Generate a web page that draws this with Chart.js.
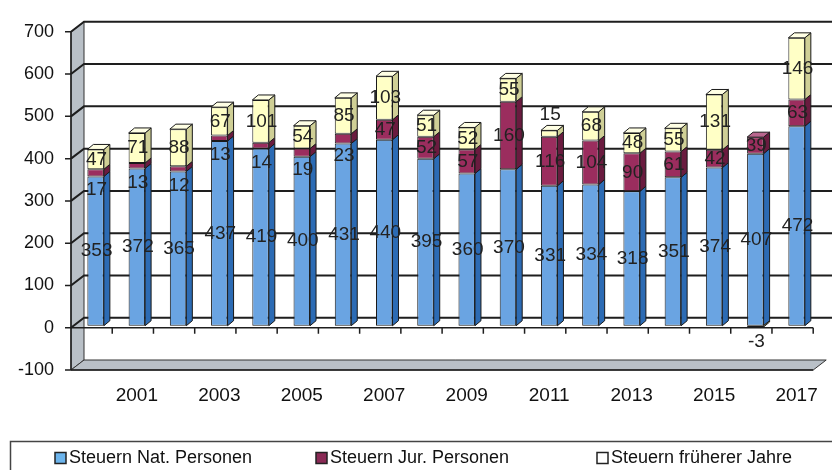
<!DOCTYPE html>
<html>
<head>
<meta charset="utf-8">
<script src="https://cdn.jsdelivr.net/npm/chart.js@4.4.0/dist/chart.umd.min.js"></script>
<style>
  html, body { margin: 0; padding: 0; background: #fff; overflow: hidden; }
  #wrap { width: 832px; height: 470px; }
</style>
</head>
<body>
<div id="wrap"><canvas id="chart" width="832" height="470"></canvas></div>
<script>
const years = ['2000', '2001', '2002', '2003', '2004', '2005', '2006', '2007', '2008',
  '2009', '2010', '2011', '2012', '2013', '2014', '2015', '2016', '2017']
const natPersonen = [353, 372, 365, 437, 419, 400, 431, 440, 395, 360, 370, 331, 334, 318, 351, 374, 407, 472]
const jurPersonen = [17, 13, 12, 13, 14, 19, 23, 47, 52, 57, 160, 116, 104, 90, 61, 42, 39, 63]
const fruehereJahre = [47, 71, 88, 67, 101, 54, 85, 103, 51, 52, 55, 15, 68, 48, 55, 131, -3, 146]
const seriesNames = ['Steuern Nat. Personen', 'Steuern Jur. Personen', 'Steuern früherer Jahre']
const yTickValues = [-100, 0, 100, 200, 300, 400, 500, 600, 700]

const frontColors = ['#6aa4e2', '#9b2d5e', '#ffffc6']
const sideColors = ['#2c6bb4', '#6a1b3f', '#cfcf96']
const topColors = ['#a8cbf1', '#b9668e', '#ffffe4']
const legendColors = ['#6cb4ec', '#8a2a55', '#ffffff']
const FONT = '"Liberation Sans", Arial, sans-serif'

// gray wall, floor, back grid lines and front axis lines
const frame3d = {
  id: 'frame3d',
  beforeDraw(chart) {
    const { ctx, chartArea: a, scales: { x, y } } = chart
    const L = a.left - 4, R = a.right - 4, dx = 13, dy = 10
    const yTop = y.getPixelForValue(y.max), yBot = y.getPixelForValue(y.min)
    const y0 = y.getPixelForValue(0)
    const poly = pts => {
      ctx.beginPath()
      pts.forEach(([px, py], i) => i ? ctx.lineTo(px, py) : ctx.moveTo(px, py))
      ctx.closePath()
    }
    ctx.save()
    ctx.fillStyle = '#b9c0c7'
    ctx.strokeStyle = '#333'
    ctx.lineWidth = 1
    poly([[L, yTop], [L + dx, yTop - dy], [L + dx, yBot - dy], [L, yBot]])
    ctx.fill(); ctx.stroke()
    poly([[L, yBot], [L + dx, yBot - dy], [R + dx, yBot - dy], [R, yBot]])
    ctx.fill(); ctx.stroke()

    ctx.strokeStyle = '#1e1e1e'
    ctx.lineWidth = 2
    yTickValues.filter(v => v > y.min).forEach(v => {
      const py = y.getPixelForValue(v)
      ctx.beginPath()
      ctx.moveTo(L, py)
      ctx.lineTo(L + dx, py - dy)
      ctx.lineTo(chart.width, py - dy)
      ctx.stroke()
    })

    ctx.lineWidth = 1.5
    ctx.beginPath()
    ctx.moveTo(L, yTop); ctx.lineTo(L, yBot)
    yTickValues.forEach(v => {
      const py = y.getPixelForValue(v)
      ctx.moveTo(L - 6, py); ctx.lineTo(L, py)
    })
    ctx.moveTo(L, y0); ctx.lineTo(R, y0)
    ctx.moveTo(L, yBot); ctx.lineTo(R, yBot)
    const step = a.width / years.length
    for (let i = 1; i <= years.length; i++) {
      const bx = a.left + i * step - 4
      ctx.moveTo(bx, y0); ctx.lineTo(bx, y0 + 6)
    }
    ctx.stroke()
    ctx.restore()
  }
}

// side and top faces of the bars, then the value labels
const bars3d = {
  id: 'bars3d',
  beforeDatasetsDraw(chart) {
    chart.ctx.save()
    chart.ctx.translate(0, -2)
  },
  afterDatasetsDraw(chart) {
    const ctx = chart.ctx
    const d = 6, dh = 5
    const metas = chart.data.datasets.map((_, i) => chart.getDatasetMeta(i))
    ctx.lineWidth = 1
    ctx.strokeStyle = '#1a1a1a'
    metas.forEach((meta, di) => {
      meta.data.forEach((bar, i) => {
        const p = bar.getProps(['x', 'y', 'base', 'width'], true)
        const left = p.x - p.width / 2, right = p.x + p.width / 2
        const top = Math.min(p.y, p.base), bottom = Math.max(p.y, p.base)
        ctx.fillStyle = sideColors[di]
        ctx.beginPath()
        ctx.moveTo(right, top); ctx.lineTo(right + d, top - dh)
        ctx.lineTo(right + d, bottom - dh); ctx.lineTo(right, bottom)
        ctx.closePath(); ctx.fill(); ctx.stroke()
        const val = chart.data.datasets[di].data[i]
        const isTop = val > 0 && chart.data.datasets.slice(di + 1).every(ds => ds.data[i] <= 0)
        if (isTop) {
          ctx.fillStyle = topColors[di]
          ctx.beginPath()
          ctx.moveTo(left, top); ctx.lineTo(left + d, top - dh)
          ctx.lineTo(right + d, top - dh); ctx.lineTo(right, top)
          ctx.closePath(); ctx.fill(); ctx.stroke()
        }
      })
    })

    ctx.fillStyle = '#222'
    ctx.font = '19px ' + FONT
    ctx.textAlign = 'center'
    ctx.textBaseline = 'middle'
    metas.forEach((meta, di) => {
      meta.data.forEach((bar, i) => {
        const val = chart.data.datasets[di].data[i]
        const p = bar.getProps(['x', 'y', 'base'], true)
        const top = Math.min(p.y, p.base), bottom = Math.max(p.y, p.base)
        let ly = (top + bottom) / 2
        if (bottom - top < 12) {
          if (val < 0) ly = bottom + 15
          else if (di === 2) ly = top - 16
          else ly += 17
        }
        ctx.fillText(String(val), p.x + 1, ly)
      })
    })
    ctx.restore()
  }
}

const boxLegend = {
  id: 'boxLegend',
  afterDraw(chart) {
    const ctx = chart.ctx
    const xs = [55, 316, 597]
    const cy = 458
    ctx.save()
    ctx.strokeStyle = '#444'
    ctx.lineWidth = 1.5
    ctx.strokeRect(10.5, 441.5, chart.width, 60)
    ctx.font = '18px ' + FONT
    ctx.textBaseline = 'middle'
    ctx.textAlign = 'left'
    chart.data.datasets.forEach((ds, i) => {
      ctx.fillStyle = legendColors[i]
      ctx.fillRect(xs[i], cy - 5.5, 11, 11)
      ctx.strokeStyle = '#222'
      ctx.lineWidth = 1.5
      ctx.strokeRect(xs[i], cy - 5.5, 11, 11)
      ctx.fillStyle = '#111'
      ctx.fillText(ds.label, xs[i] + 14, cy)
    })
    ctx.restore()
  }
}

const datasets = [natPersonen, jurPersonen, fruehereJahre].map((values, i) => ({
  label: seriesNames[i],
  data: values,
  backgroundColor: frontColors[i],
  borderColor: '#1a1a1a',
  borderWidth: 1,
  borderSkipped: false,
  categoryPercentage: 1,
  barPercentage: 0.4
}))

new Chart(document.getElementById('chart'), {
  type: 'bar',
  data: { labels: years, datasets },
  options: {
    responsive: false,
    animation: false,
    devicePixelRatio: 1,
    layout: { padding: { top: 21, right: 10, bottom: 0, left: 0 } },
    plugins: {
      legend: { display: false },
      tooltip: { enabled: false }
    },
    scales: {
      x: {
        stacked: true,
        grid: { display: false, drawTicks: false },
        border: { display: false },
        afterFit: s => { s.height = 100 },
        ticks: {
          autoSkip: false,
          maxRotation: 0,
          padding: 14,
          color: '#111',
          font: { family: FONT, size: 19 },
          callback: (v, idx) => idx % 2 === 1 ? years[idx] : ''
        }
      },
      y: {
        stacked: true,
        min: -100,
        max: 700,
        grid: { display: false, drawTicks: false },
        border: { display: false },
        afterFit: s => { s.width = 75 },
        ticks: {
          stepSize: 100,
          padding: 21,
          color: '#111',
          font: { family: FONT, size: 18 }
        }
      }
    }
  },
  plugins: [frame3d, bars3d, boxLegend]
})
</script>
</body>
</html>
